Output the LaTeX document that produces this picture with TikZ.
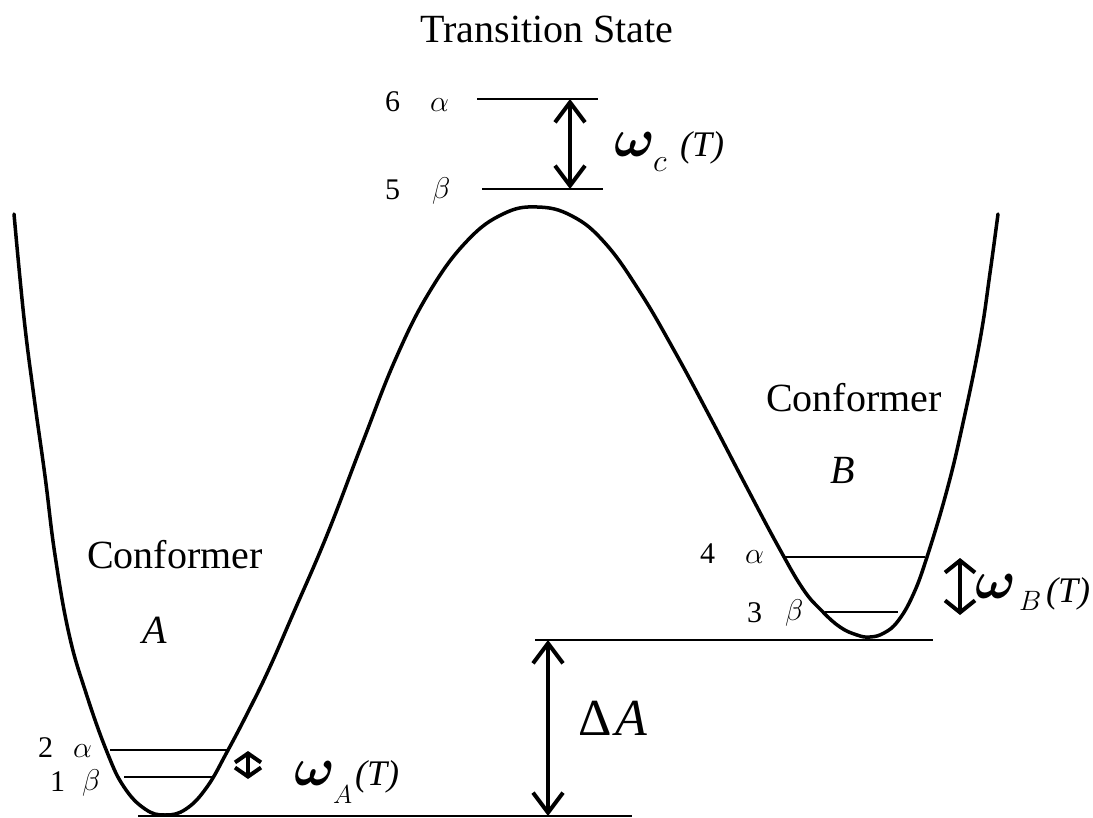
\RequirePackage{fix-cm}
\documentclass[tikz,border=0pt]{standalone}
\usepackage{fontspec}
\setmainfont{Liberation Serif}
\usetikzlibrary{arrows.meta}
\begin{document}
\begin{tikzpicture}[x=1pt,y=-1pt,
  curve/.style={line width=3.5pt, line join=round, line cap=round},
  level/.style={line width=1.6pt},
  bigarrow/.style={line width=4pt, {Straight Barb[length=20pt,width=30pt]}-{Straight Barb[length=20pt,width=30pt]}},
  smallarrow/.style={line width=4pt, {Straight Barb[length=9pt,width=26pt]}-{Straight Barb[length=9pt,width=26pt]}},
  midarrow/.style={line width=4pt, {Straight Barb[length=12pt,width=30pt]}-{Straight Barb[length=12pt,width=30pt]}},
  lbl/.style={inner sep=0pt, anchor=base west},
  num/.style={lbl, font=\fontsize{30}{34}\selectfont},
  big/.style={inner sep=0pt, anchor=base, font=\fontsize{40}{44}\selectfont},
  omega/.style={lbl, font=\fontsize{54}{58}\selectfont\boldmath},
  temp/.style={lbl, font=\fontsize{36}{40}\selectfont\itshape},
]
\useasboundingbox (0,0) rectangle (1093,818);

% potential curve
\draw[curve] plot[smooth, tension=0.7] coordinates {
 (14,214) (24,318) (34,397) (45,476) (55,555) (69,634) (86,693) (107,752)
 (124,787) (145,809) (165,815) (186,809) (207,787) (227,752) (248,712)
 (269,669) (293,614) (327,535) (362,444) (396,358) (430,291) (467,241)
 (503,214) (537,207) (572,216) (605,243) (640,292) (675,352) (710,417)
 (745,484) (778,546) (803,589) (822,611) (840,627) (857,635) (870,637)
 (884,633) (898,621) (913,595) (927,557) (947,490) (963,423) (980,340)
 (990,273) (998,214)};

% level coordinates
\coordinate (l6a) at (477,99);  \coordinate (l6b) at (598,99);
\coordinate (l5a) at (482,189); \coordinate (l5b) at (603,189);
\coordinate (l2a) at (110,750); \coordinate (l2b) at (229,750);
\coordinate (l1a) at (124,777); \coordinate (l1b) at (212,777);
\coordinate (l4a) at (785,557); \coordinate (l4b) at (925,557);
\coordinate (l3a) at (825,612); \coordinate (l3b) at (898,612);
\coordinate (bAa) at (138,816); \coordinate (bAb) at (632,816);
\coordinate (bBa) at (535,640); \coordinate (bBb) at (933,640);

\draw[level] (l6a) -- (l6b);
\draw[level] (l5a) -- (l5b);
\draw[level] (l2a) -- (l2b);
\draw[level] (l1a) -- (l1b);
\draw[level] (l4a) -- (l4b);
\draw[level] (l3a) -- (l3b);
\draw[level] (bAa) -- (bAb);
\draw[level] (bBa) -- (bBb);

% arrows
\coordinate (wct) at (570,99);  \coordinate (wcb) at (570,189);
\coordinate (wat) at (248,751); \coordinate (wab) at (248,779);
\coordinate (wbt) at (960,558); \coordinate (wbb) at (960,615);
\coordinate (dat) at (548,640); \coordinate (dab) at (548,816);
\draw[bigarrow] (wct) -- (wcb);
\draw[smallarrow] (wat) -- (wab);
\draw[midarrow] (wbt) -- (wbb);
\draw[bigarrow] (dat) -- (dab);

% texts
\node[big] (ts) at (547,43) {Transition State};
\node[big] (confA) at (175,568) {Conformer};
\node[big, font=\fontsize{40}{44}\selectfont\itshape] (nA) at (155,643) {A};
\node[big] (confB) at (854,412) {Conformer};
\node[big, font=\fontsize{40}{44}\selectfont\itshape] (nB) at (843,483) {B};

\node[num] (n6) at (385,112) {6};
\node[num] (g6) at (430,112) {$\alpha$};
\node[num] (n5) at (385,200) {5};
\node[num] (g5) at (432,199) {$\beta$};
\node[num] (n2) at (38,757) {2};
\node[num] (g2) at (73,757) {$\alpha$};
\node[num] (n1) at (50,791) {1};
\node[num] (g1) at (82,790) {$\beta$};
\node[num] (n4) at (700,563) {4};
\node[num] (g4) at (745,563) {$\alpha$};
\node[num] (n3) at (747,622) {3};
\node[num] (g3) at (785,620) {$\beta$};

\node[omega] (wc) at (614,157) {$\omega$};
\node[lbl, font=\fontsize{32}{34}\selectfont] (wcs) at (653,172) {$c$};
\node[temp] (wcT) at (680,157) {(T)};

\node[omega] (wa) at (294,785) {$\omega$};
\node[lbl, font=\fontsize{26}{28}\selectfont] (was) at (333,803) {$A$};
\node[temp] (waT) at (355,785) {(T)};

\node[omega] (wb) at (975,598) {$\omega$};
\node[lbl, font=\fontsize{28}{30}\selectfont] (wbs) at (1019,610) {$B$};
\node[temp] (wbT) at (1046,602) {(T)};

\node[lbl, font=\fontsize{52}{56}\selectfont] (dA) at (578,735) {Δ\hspace{4pt}\textit{A}};
\end{tikzpicture}
\end{document}
